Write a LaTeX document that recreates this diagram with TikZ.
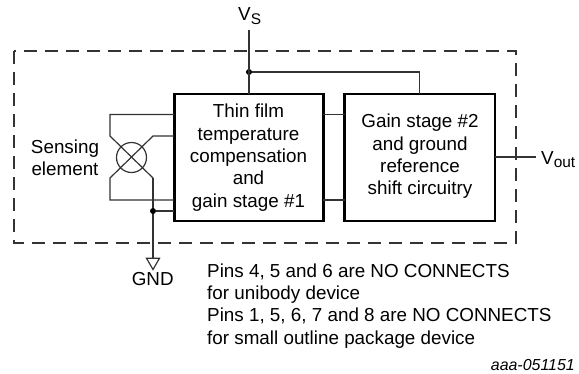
\documentclass[tikz,border=0pt]{standalone}
\usepackage{fontspec}
\setmainfont{Liberation Sans}
\usepackage{tikz}
\usetikzlibrary{calc,shapes.geometric}
\newcommand{\subtext}[2][4.5bp]{\raisebox{-#1}{\fontsize{15.5}{15.5}\selectfont #2}}
\tikzset{
  block/.style={draw, line width=2.4bp, outer sep=0pt, align=center},
  wire/.style={line width=1.2bp, draw=black!80},
  label/.style={inner sep=0pt, font=\fontsize{18.9}{22.4}\selectfont},
  dot/.style={circle, fill=black, inner sep=0pt, minimum size=6bp}
}
\begin{document}
\begin{tikzpicture}[x=1bp,y=-1bp]
\useasboundingbox (0,0) rectangle (579,373);
% outer box
\draw[wire, dash pattern=on 13bp off 8bp] (14,51) rectangle (516,243);

% the two blocks
\node[block, anchor=north west, minimum width=149bp, minimum height=127bp] (stageone) at (174.3,93.8) {};
\node[block, anchor=north west, minimum width=150.5bp, minimum height=127bp] (stagetwo) at (344.5,93.8) {};
\node[label, align=center] (stageonetext) at (248.5,157.5) {Thin film\\temperature\\compensation\\and\\gain stage \#1};
\node[label, align=center] (stagetwotext) at (420,156.5) {Gain stage \#2\\and ground\\reference\\shift circuitry};

% sensing element
\node[draw, wire, circle, minimum size=30bp, inner sep=0pt] (bridge) at (131.5,157.5) {};
\node[label, align=center] (sensing) at (65,158) {Sensing\\element};
\coordinate (bridgea) at (110,136);
\coordinate (bridgeb) at (153,178);
\coordinate (bridgec) at (110,178);
\coordinate (bridged) at (153,136);
\draw[wire] (stageone.west |- 0,114.5) -| (bridgea) -- (bridgeb);
\draw[wire] (stageone.west |- 0,200) -| (bridgec) -- (bridged) -- (stageone.west |- 0,136);

% ground
\node[draw, wire, regular polygon, regular polygon sides=3, shape border rotate=180, inner sep=0pt, minimum size=15bp] (gndtri) at (153,262) {};
\node[label] (gnd) at (152.7,279.4) {GND};
\draw[wire] (bridgeb) -- (gndtri.north);
\node[dot] (gnddot) at (153,211) {};
\draw[wire] (gnddot) -- (stageone.west |- gnddot);

% supply
\node[label, anchor=base west] (vs) at (238,20) {V\subtext{S}};
\node[dot] (vsdot) at (249,72) {};
\coordinate (vstop) at (249,30);
\draw[wire] (vstop) -- (stageone.north -| vstop);
\draw[wire] (vsdot) -| (stagetwo.north);

% between blocks
\draw[wire] (stageone.east |- 0,114.5) -- (stagetwo.west |- 0,114.5);
\draw[wire] (stageone.east |- 0,200) -- (stagetwo.west |- 0,200);

% output
\coordinate (voutend) at (536,157);
\node[label, anchor=base west] (vout) at (541,164) {V\subtext[3bp]{out}};
\draw[wire] (stagetwo.east |- voutend) -- (voutend);

% notes
\node[label, align=left, anchor=north west] (notes) at (207,263.5) {Pins 4, 5 and 6 are NO CONNECTS\\for unibody device\\Pins 1, 5, 6, 7 and 8 are NO CONNECTS\\for small outline package device};
\node[label, anchor=east, font=\fontsize{16}{18}\selectfont\itshape] (docid) at (575,365) {aaa-051151};
\end{tikzpicture}
\end{document}
